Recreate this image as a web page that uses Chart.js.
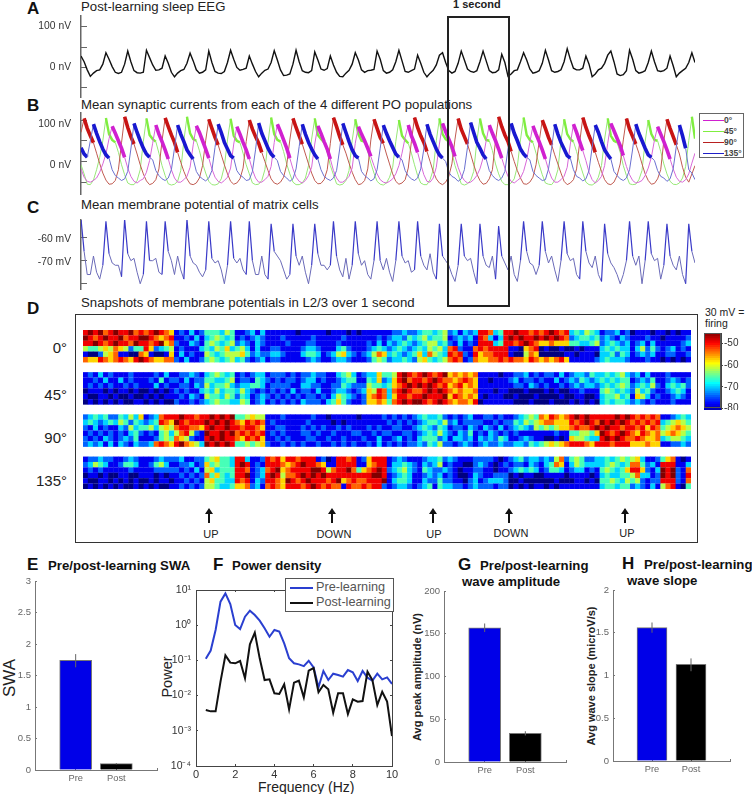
<!DOCTYPE html>
<html>
<head>
<meta charset="utf-8">
<title>Post-learning sleep figure</title>
<script src="https://cdn.jsdelivr.net/npm/chart.js@4"></script>
<style>
    html, body { margin: 0; padding: 0; background: #fff; }
    #page { position: relative; width: 752px; height: 794px; overflow: hidden; font-family: "Liberation Sans", sans-serif; color: #222; }
    #page canvas { position: absolute; }
    .txt { position: absolute; white-space: nowrap; line-height: 1; }
    .letter { font-weight: bold; font-size: 17px; color: #111; }
    .title { font-size: 13.2px; color: #222; }
    .head { font-weight: bold; font-size: 13.2px; color: #111; }
    .row { font-size: 15px; width: 60px; text-align: right; left: 7px; color: #222; }
    .state { font-size: 11px; transform: translateX(-50%); color: #222; }
    .box { position: absolute; box-sizing: border-box; }
    .vert { transform: translate(-50%, -50%) rotate(-90deg); }
</style>
</head>
<body>
<div id="page">
    <span class="txt letter" style="left:27px;top:0px">A</span>
    <span class="txt title" style="left:81px;top:0px">Post-learning sleep EEG</span>
    <span class="txt letter" style="left:27px;top:97px">B</span>
    <span class="txt title" style="left:81px;top:98px">Mean synaptic currents from each of the 4 different PO populations</span>
    <span class="txt letter" style="left:27px;top:199px">C</span>
    <span class="txt title" style="left:81px;top:198px">Mean membrane potential of matrix cells</span>
    <span class="txt letter" style="left:27px;top:300px">D</span>
    <span class="txt title" style="left:81px;top:296px">Snapshots of membrane potentials in L2/3 over 1 second</span>
    <span class="txt" style="left:453px;top:-1px;font-weight:bold;font-size:11px">1 second</span>

    <span class="txt row" style="top:340px">0°</span>
    <span class="txt row" style="top:387px">45°</span>
    <span class="txt row" style="top:430px">90°</span>
    <span class="txt row" style="top:473px">135°</span>

    <span class="txt state" style="left:211px;top:529px">UP</span>
    <span class="txt state" style="left:334px;top:529px">DOWN</span>
    <span class="txt state" style="left:434px;top:529px">UP</span>
    <span class="txt state" style="left:511px;top:528px">DOWN</span>
    <span class="txt state" style="left:627px;top:528px">UP</span>

    <span class="txt" style="left:705px;top:307px;font-size:10.5px">30 mV =</span>
    <span class="txt" style="left:705px;top:318px;font-size:10.5px">firing</span>

    <span class="txt letter" style="left:27px;top:556px">E</span>
    <span class="txt head" style="left:48px;top:559px">Pre/post-learning SWA</span>
    <span class="txt letter" style="left:213px;top:556px">F</span>
    <span class="txt head" style="left:232px;top:559px">Power density</span>
    <span class="txt letter" style="left:458px;top:556px">G</span>
    <span class="txt head" style="left:480px;top:559px">Pre/post-learning</span>
    <span class="txt head" style="left:462px;top:575px">wave amplitude</span>
    <span class="txt letter" style="left:622px;top:555px">H</span>
    <span class="txt head" style="left:644px;top:558px">Pre/post-learning</span>
    <span class="txt head" style="left:627px;top:574px">wave slope</span>

    <span class="txt vert" style="left:9px;top:678px;font-size:17px">SWA</span>
    <span class="txt vert" style="left:167px;top:677px;font-size:14.5px">Power</span>
    <span class="txt" style="left:258px;top:780px;font-size:14px">Frequency (Hz)</span>
    <span class="txt vert" style="left:417px;top:677px;font-size:11px;font-weight:bold">Avg peak amplitude (nV)</span>
    <span class="txt vert" style="left:591px;top:676px;font-size:11px;font-weight:bold">Avg wave slope (microV/s)</span>
</div>

<script>
// panel A, nV, one sample every 0.05 s
const eegValues = [
    28,14,-6,-22,-14,-8,-6,8,36,20,
    2,-12,-15,-12,8,40,14,-8,-13,-14,
    -12,42,24,6,-7,-6,-2,28,10,-12,
    -23,-14,-8,-5,10,35,16,-6,-14,-12,
    -6,40,12,-10,-14,-15,-10,12,42,20,
    0,-7,-5,-2,28,8,-10,-23,-14,-7,
    -4,12,41,18,-6,-20,-19,-16,8,42,
    14,-8,-12,-13,-8,38,18,-4,-7,-3,
    28,6,-12,-22,-23,-14,-7,8,36,18,
    -6,-12,-8,-7,-5,40,20,-8,-14,-12,
    -6,14,42,16,-10,-12,-8,-4,30,10,
    -12,-23,-14,-7,6,30,36,12,-8,-14,
    -10,10,40,18,-4,-10,-12,-8,14,40,
    16,-8,-13,-12,-6,32,12,-22,-16,-8,
    -6,14,36,18,-4,-14,-12,-8,10,42,
    18,-8,-12,-10,-6,14,46,20,-2,-6,
    -6,-2,28,8,-23,-16,-6,-2,10,30,
    40,14,-16,-20,-18,-8,42,20,-8,-14,
    -12,-8,12,40,14,-8,-10,-8,-2,28,
    4,-23,-14,-8,-2,12,36,12
];

// panel B, nV, same sampling
const current0 = [
    -18,-38,-48,-50,-46,-40,-26,-6,18,55,85,
    68,50,32,10,-16,-36,-48,-52,-46,-42,-26,2,44,88,
    66,48,28,6,-20,-40,-50,-50,-44,-36,-14,40,86,
    70,50,30,8,-18,-38,-48,-52,-46,-38,-16,42,84,
    66,46,28,6,-20,-40,-50,-50,-44,-36,-12,46,90,
    72,52,32,8,-18,-38,-48,-52,-46,-34,-14,42,86,
    68,48,30,6,-22,-40,-50,-50,-44,-36,-16,44,84,
    66,50,32,12,-10,-30,-44,-50,-52,-48,-42,-30,-10,20,58,88,
    62,44,22,-6,-32,-48,-50,-40,-14,42,92,
    72,54,36,12,-14,-34,-46,-52,-50,-44,-34,-18,8,50,88,
    68,50,30,8,-16,-36,-48,-52,-46,-40,-24,4,46,86,
    66,48,28,6,-20,-40,-50,-50,-44,-36,-14,42,90,
    70,48,26,2,-26,-44,-52,-46,-36,-10,44,92,
    74,56,38,14,-12,-32,-46,-52,-50,-46,-34,-16,10,52,84,
    66,48,28,6,-18,-38,-48,-50,-44,-30,-4,20
];
const current45 = [
    -8,-30,-55,-56,-45,-20,10,50,105,
    66,52,46,22,-8,-32,-52,-56,-56,-46,-20,48,104,
    64,54,48,20,-10,-34,-54,-57,-55,-48,-22,50,108,
    68,54,50,26,-4,-28,-48,-56,-57,-54,-42,-12,52,103,
    62,50,46,20,-8,-30,-52,-56,-55,-46,-20,46,106,
    66,52,48,24,-6,-30,-50,-56,-56,-52,-40,-10,54,104,
    64,54,46,22,-10,-32,-54,-57,-55,-46,-22,50,102,
    66,50,48,24,-4,-28,-48,-55,-57,-52,-38,-14,48,100,
    62,52,44,20,-8,-34,-52,-56,-56,-44,-20,50,104,
    66,54,48,22,-10,-32,-54,-57,-54,-46,-24,48,104,
    68,52,50,26,-6,-30,-48,-56,-56,-52,-42,-12,52,106,
    64,52,46,20,-8,-32,-52,-55,-56,-46,-20,50,102,
    66,54,48,24,-4,-28,-50,-56,-57,-52,-38,-10,54,104,
    62,50,46,22,-10,-34,-54,-56,-55,-44,-22,48,100,
    66,52,50,24,-6,-30,-48,-55,-56,-52,-40,-12,50,108,
    55
];
const current90 = [
    70,104,
    80,62,45,20,-5,-28,-45,-55,-54,-46,-20,45,108,
    82,60,42,18,-8,-30,-47,-56,-53,-44,-18,50,105,
    84,64,46,22,-2,-24,-42,-54,-56,-52,-40,-10,50,102,
    80,58,40,16,-8,-30,-48,-55,-52,-42,-16,48,100,
    78,60,44,22,0,-22,-42,-52,-55,-50,-38,-8,52,104,
    82,62,42,18,-6,-28,-46,-54,-53,-44,-20,44,106,
    84,60,40,20,-4,-26,-44,-56,-54,-46,-18,52,102,
    80,58,44,18,-6,-30,-48,-55,-52,-44,-16,48,106,
    82,62,46,24,0,-24,-42,-52,-56,-50,-36,-6,54,104,
    78,60,42,18,-8,-30,-46,-55,-53,-42,-20,50,108,
    84,64,48,24,0,-22,-40,-54,-55,-50,-38,-8,48,100,
    80,58,40,16,-6,-28,-48,-56,-52,-44,-18,46,106,
    82,62,44,22,-2,-24,-44,-54,-56,-50,-34,-6,52,104,
    78,60,42,20,-6,-30,-46,-55,-53,-42,-20,50,102,
    80,60,40,18,-14,-38,-50,-30,-10
];
const current135 = [
    33,18,10,50,90,
    68,48,30,16,8,-20,-34,-40,-46,-42,-24,30,92,
    70,50,32,18,10,4,-22,-34,-42,-46,-40,-20,32,88,
    66,48,28,16,6,-24,-36,-42,-47,-40,-22,34,90,
    70,46,30,14,8,-22,-33,-38,-46,-44,-24,28,93,
    68,50,32,18,10,2,-24,-34,-40,-48,-42,-18,36,90,
    66,46,30,16,6,-20,-36,-42,-46,-40,-22,30,92,
    70,48,28,14,8,-24,-34,-40,-47,-42,-20,32,88,
    68,50,34,18,10,4,-22,-35,-42,-46,-40,-18,30,90,
    66,48,30,16,8,0,-26,-36,-40,-48,-42,-20,34,94,
    70,46,32,16,6,-22,-34,-42,-46,-40,-24,30,92,
    68,50,30,18,10,4,-24,-34,-40,-46,-44,-18,32,90,
    66,46,30,14,8,-20,-36,-40,-47,-42,-22,34,88,
    70,48,28,16,6,-24,-34,-42,-46,-40,-20,30,90,
    68,50,32,16,10,2,-22,-36,-40,-48,-42,-18,36,88,
    62,32,-20,-28,-44
];

// panel C, mV
const matrixValues = [
    -52,-66,-76,-76,-68,-75,-78,-72,-53,-67,
    -71,-72,-72,-77,-52,-67,-70,-69,-75,-80,
    -76,-53,-70,-70,-69,-75,-76,-53,-66,-70,
    -76,-68,-74,-78,-52,-68,-71,-72,-75,-77,
    -74,-53,-69,-71,-70,-74,-80,-72,-53,-69,
    -71,-69,-74,-76,-53,-70,-76,-76,-68,-76,
    -78,-54,-66,-68,-70,-74,-78,-76,-54,-68,
    -72,-68,-75,-80,-72,-54,-67,-72,-72,-74,
    -72,-53,-68,-74,-77,-69,-78,-72,-53,-67,
    -72,-70,-76,-78,-70,-53,-70,-74,-69,-75,
    -79,-70,-53,-68,-71,-70,-75,-74,-53,-68,
    -72,-74,-67,-75,-78,-54,-68,-70,-72,-76,
    -79,-72,-54,-68,-70,-69,-75,-80,-54,-68,
    -72,-73,-68,-78,-55,-68,-71,-74,-68,-76,
    -79,-70,-53,-66,-71,-72,-76,-72,-53,-66,
    -71,-68,-74,-79,-70,-53,-67,-70,-69,-76,
    -78,-53,-66,-71,-73,-68,-76,-79,-54,-67,
    -71,-73,-76,-80,-76,-70,-53,-68,-72,-68,
    -80,-70,-53,-67,-70,-69,-78,-72,-54,-68,
    -72,-74,-68,-76,-80,-54,-66,-71
];

const sampleStep = 0.05;
const traceSeconds = 9.85;

const eegTicks = [100, 50, 0, -50];
const eegTickLabels = ['100 nV', '', '0 nV', ''];
const matrixTicks = [-60, -70, -80];
const matrixTickLabels = ['-60 mV', '-70 mV', ''];
const currentKeys = ['0°', '45°', '90°', '135°'];

// panel D, one string per row of each band, 20 snapshots of 6 cells, colour level 0-9
const band0 = [
    '898978 988978 789876 121312 444354 112313 111111 011111 011101 011111 122322 344345 231323 887348 898878 789878 343543 122312 011101 101011',
    '987898 897889 987678 112131 345434 121232 111211 111211 111211 111121 233243 453445 123231 873138 989889 898987 234434 232132 111211 011112',
    '889878 988798 878967 211321 454345 232132 111121 112211 112111 112131 323432 345534 213121 888348 878987 667666 443345 234323 123131 111123',
    '544565 765244 862345 121113 435463 453131 122111 123321 113421 112343 234323 435453 782117 878888 110678 010010 010111 343433 135242 123121',
    '100256 711007 610016 131211 543455 564232 233211 134431 235632 123576 343234 637543 878218 677888 100576 000001 101110 334243 123231 122112',
    '766876 787689 876677 213112 454345 342123 122111 112321 123321 112454 233432 564345 787127 667787 877687 676786 111112 343332 111211 010101'
];
const band45 = [
    '121312 111211 112131 122321 345434 121233 122212 122322 113453 123364 458987 898789 676767 111101 122312 122131 233243 343453 231311 121111',
    '112131 131211 121412 213122 443345 122143 212122 123312 112344 114362 368978 878987 767876 110111 231221 211312 324323 434344 123241 123212',
    '121212 112121 113121 122132 534453 233443 122221 133221 122432 225443 467898 989878 678676 111111 122132 121121 232332 343454 234352 134342',
    '011101 011010 010101 212113 435344 353212 121213 122131 123321 236587 378987 789898 767667 111011 000100 010100 112111 454343 253421 123431',
    '100110 100100 101011 121321 544354 243123 212121 212212 135432 126787 368878 898889 687676 101110 010001 000010 011001 344534 165312 112321',
    '010101 010011 010100 211212 345443 354123 121212 132221 346421 126676 478989 987898 767768 011111 100010 001000 101010 343443 232121 112111'
];
const band90 = [
    '234342 243536 123788 898878 898989 445655 111211 111211 011111 011112 121212 343342 121231 122121 123454 768767 898988 888989 878787 112343',
    '343234 354243 234876 987888 989898 768787 121111 112111 101011 111111 212121 234435 231222 211212 243545 677666 878987 989898 787878 345654',
    '213121 132534 453565 788776 898898 878876 112211 121212 112121 112121 122112 343243 122132 132131 234325 454566 787789 898878 878687 456765',
    '121212 121342 121453 578521 988989 787878 121211 122121 121112 211212 211221 234353 213241 213212 121111 111211 445546 987898 768767 567654',
    '212132 123241 112454 765211 898988 768786 112121 112211 211211 121131 123121 344423 133231 323243 112321 100101 655433 898987 787667 345543',
    '232313 132132 237876 897653 989898 445456 211212 121121 121212 112131 212122 324352 212321 232232 233243 456567 888768 887888 666766 112232'
];
const band135 = [
    '122322 112321 112322 231122 456443 883112 878688 788812 018878 126888 123211 123342 321112 222101 234233 232572 454223 343454 563112 467101',
    '235431 124431 124531 122312 645443 898121 888767 898876 118888 116788 133432 132351 211002 321012 122132 134761 354333 345434 774231 888113',
    '121211 111211 112222 212131 563444 887123 789678 888998 578897 467898 234532 143223 210112 211011 234343 124431 233121 454346 886213 989217',
    '011010 011001 110101 121212 746434 889123 898577 898989 888888 888998 123431 123231 210013 211222 010110 011110 111101 343344 573312 989218',
    '100110 101010 010110 112121 564433 878132 887698 789888 789678 778889 134431 132242 211023 123332 001000 000100 011010 445435 452122 888217',
    '010101 010010 101001 121212 554334 667231 787688 878987 877187 787882 123321 234143 322123 222122 010101 101011 111111 344344 232131 578104'
];

const colorbarLevels = [-80,-79,-78,-77,-76,-75,-74,-73,-72,-71,-70,-69,-68,-67,-66,-65,-64,-63,-62,-61,-60,-59,-58,-57,-56,-55,-54,-53,-52,-51,-50,-49,-48,-47,-46];
const colorbarTicks = [-50, -60, -70, -80];

// panels E, G, H
const barPositions = [1, 2];
const barTickLabels = ['', 'Pre', 'Post', ''];
const swaValues = [1.74, 0.1];
const swaLow = [1.63, 0.09];
const swaHigh = [1.84, 0.11];
const swaTicks = [0, 0.5, 1, 1.5, 2, 2.5, 3];
const amplitudeValues = [157, 33.5];
const amplitudeLow = [152, 31];
const amplitudeHigh = [162, 36];
const amplitudeTicks = [0, 50, 100, 150, 200];
const slopeValues = [1.56, 1.13];
const slopeLow = [1.5, 1.05];
const slopeHigh = [1.62, 1.2];
const slopeTicks = [0, 0.5, 1, 1.5, 2];

// panel F
const frequencies = [0.5,0.75,1,1.25,1.5,1.75,2,2.25,2.5,2.75,3,3.25,3.5,3.75,4,4.25,4.5,4.75,5,5.25,5.5,5.75,6,6.25,6.5,6.75,7,7.25,7.5,7.75,8,8.25,8.5,8.75,9,9.25,9.5,9.75,10];
const powerPre = [0.112,0.19,0.73,4.67,8,4,1.01,0.78,1.75,2.59,1.95,1.35,0.815,0.47,0.73,0.655,0.305,0.115,0.083,0.077,0.069,0.098,0.0635,0.0172,0.05,0.0277,0.042,0.0385,0.0345,0.053,0.0458,0.026,0.05,0.0324,0.0266,0.042,0.029,0.033,0.0214];
const powerPost = [0.0039,0.00357,0.00357,0.0249,0.139,0.0863,0.0826,0.0962,0.031,0.286,0.614,0.1145,0.0277,0.029,0.0116,0.0111,0.0209,0.00407,0.0233,0.0265,0.00893,0.051,0.0608,0.0124,0.02,0.0151,0.00327,0.0116,0.0116,0.003,0.00783,0.00673,0.00703,0.0479,0.0277,0.0054,0.0129,0.00673,0.00071];
const powerTicks = [10, 1, 0.1, 0.01, 0.001, 0.0001];
const powerTickLabels = ['10¹', '10⁰', '10⁻¹', '10⁻²', '10⁻³', '10⁻⁴'];
const frequencyTicks = [0, 2, 4, 6, 8, 10];
const powerKeys = ['Pre-learning', 'Post-learning'];

const page = document.getElementById('page');
const topGap = 8;

function makeChart(box, marginLeft, marginBottom, marginRight, config) {
    const canvas = document.createElement('canvas');
    canvas.style.left = (box[0] - marginLeft) + 'px';
    canvas.style.top = (box[1] - topGap) + 'px';
    canvas.style.width = (marginLeft + box[2] + marginRight) + 'px';
    canvas.style.height = (topGap + box[3] + marginBottom) + 'px';
    canvas.width = marginLeft + box[2] + marginRight;
    canvas.height = topGap + box[3] + marginBottom;
    page.appendChild(canvas);
    config.options = Object.assign({
        responsive: false,
        animation: false,
        events: [],
        layout: { padding: { top: topGap, right: config.rightAxis ? 0 : marginRight, left: 0, bottom: 0 } },
        plugins: { legend: { display: false }, tooltip: { enabled: false } }
    }, config.options);
    return new Chart(canvas, config);
}

function fixedTicks(values) {
    return scale => { scale.ticks = values.map(v => ({ value: v })); };
}

// keep the plot area exactly where the box says, labels may hang outside it
function fitY(width) {
    return s => { s.width = width; s.paddingTop = 0; s.paddingBottom = 0; };
}
function fitX(height) {
    return s => { s.height = height; s.paddingLeft = 0; s.paddingRight = 0; };
}

function traceY(ticks, labels, min, max, width, labelOffset) {
    return {
        min: min, max: max, position: 'left',
        afterFit: fitY(width),
        afterBuildTicks: fixedTicks(ticks),
        border: { color: '#666', width: 1.5 },
        grid: { drawOnChartArea: false, tickLength: -6, color: '#666' },
        ticks: {
            padding: 16, labelOffset: labelOffset, autoSkip: false, maxRotation: 0,
            color: '#333', font: { family: 'Liberation Sans', size: 10.3 },
            callback: v => labels[ticks.indexOf(v)]
        }
    };
}

const traceX = { type: 'linear', min: 0, max: traceSeconds, display: false };

function traceSet(values, color, paleColor, limit, thick, thin) {
    return {
        data: values, borderColor: paleColor, borderWidth: thin, pointRadius: 0, tension: 0,
        segment: {
            borderWidth: c => (c.p0.parsed.y > c.p1.parsed.y && c.p1.parsed.y > limit) ? thick : thin,
            borderColor: c => (c.p0.parsed.y > c.p1.parsed.y && c.p1.parsed.y > limit) ? color : paleColor
        }
    };
}

function sampleTimes(values) {
    return values.map((v, i) => i * sampleStep);
}

// A
makeChart([81, 16, 614, 80], 81, 2, 8, {
    type: 'line',
    data: {
        labels: sampleTimes(eegValues),
        datasets: [{ data: eegValues, borderColor: '#111', borderWidth: 1.4, pointRadius: 0, tension: 0 }]
    },
    options: { scales: { x: traceX, y: traceY(eegTicks, eegTickLabels, -75, 126, 81, 0) } }
});

// B
makeChart([81, 113, 614, 80], 81, 2, 8, {
    type: 'line',
    data: {
        labels: sampleTimes(current0),
        datasets: [
            traceSet(current135, '#1818d0', '#6a70d0', 5, 3.6, 1),
            traceSet(current0, '#d020d0', '#d868d8', 5, 3.6, 1),
            traceSet(current90, '#c81414', '#c05a50', 20, 3.6, 1),
            traceSet(current45, '#80ee40', '#98e878', 40, 2.4, 1)
        ]
    },
    options: { scales: { x: traceX, y: traceY(eegTicks, eegTickLabels, -81, 117, 81, 4) } }
});

// C
makeChart([81, 220, 614, 68], 81, 2, 8, {
    type: 'line',
    data: {
        labels: sampleTimes(matrixValues),
        datasets: [{
            data: matrixValues, borderColor: '#6a6ab8', borderWidth: 1, pointRadius: 0, tension: 0,
            segment: {
                borderColor: c => Math.max(c.p0.parsed.y, c.p1.parsed.y) > -62 ? '#3a3ac8' : '#6a6ab8',
                borderWidth: c => Math.max(c.p0.parsed.y, c.p1.parsed.y) > -62 ? 1.2 : 1
            }
        }]
    },
    options: { scales: { x: traceX, y: traceY(matrixTicks, matrixTickLabels, -82.7, -52.4, 81, 2) } }
});

// jet colour map of the colour bar
function jet(mv) {
    const t = Math.min(1, Math.max(0, (mv + 82) / 37));
    const part = c => Math.round(255 * Math.min(1, Math.max(0, 1.5 - Math.abs(4 * t - c))));
    return 'rgb(' + part(3) + ',' + part(2) + ',' + part(1) + ')';
}

// D
const cellPoints = [];
const cellColors = [];
[band0, band45, band90, band135].forEach((band, b) => {
    band.forEach((rowText, k) => {
        rowText.replace(/ /g, '').split('').forEach((level, col) => {
            cellPoints.push({ x: col + 0.5, y: b * 7.82 + k + 0.5 });
            cellColors.push(jet(-82 + Number(level) * 37 / 9));
        });
    });
});
const heat = makeChart([79, 330, 616, 163], 0, 0, 0, {
    type: 'scatter',
    data: { datasets: [{
        data: cellPoints, pointStyle: 'rect', pointRadius: 3.9, pointBorderWidth: 0,
        pointBackgroundColor: cellColors
    }] },
    options: { scales: {
        x: { type: 'linear', min: 0, max: 120, display: false },
        y: { type: 'linear', min: 0, max: 29.46, reverse: true, display: false }
    } }
});
heat.canvas.style.filter = 'blur(0.7px)';

// colour bar
makeChart([704, 333, 17, 75], 0, 2, 30, {
    type: 'bar',
    rightAxis: true,
    data: { labels: colorbarLevels, datasets: [{
        data: colorbarLevels.map(v => ({ x: 1, y: v })),
        backgroundColor: colorbarLevels.map(jet), barThickness: 2.6, borderWidth: 0
    }] },
    options: {
        indexAxis: 'y',
        scales: {
            x: { type: 'linear', min: 0, max: 1, display: false },
            y: {
                type: 'linear', position: 'right', min: -80.6, max: -45.3, offset: false,
                afterFit: fitY(30),
                afterBuildTicks: fixedTicks(colorbarTicks),
                border: { color: '#444' },
                grid: { drawOnChartArea: false, offset: false, tickLength: 2, color: '#444' },
                ticks: { padding: 1, color: '#333', font: { family: 'Liberation Sans', size: 10 } }
            }
        }
    }
});

// E, G, H
function barChart(box, marginLeft, values, low, high, ticks, barWidth) {
    const whisker = i => ({
        type: 'line', data: [{ x: barPositions[i], y: low[i] }, { x: barPositions[i], y: high[i] }],
        borderColor: '#666', borderWidth: 1, pointRadius: 0, order: 0
    });
    makeChart(box, marginLeft, 22, 8, {
        type: 'bar',
        data: { datasets: [
            whisker(0), whisker(1),
            {
                data: values.map((v, i) => ({ x: barPositions[i], y: v })),
                backgroundColor: ['#0000e8', '#000000'], borderColor: '#777', borderWidth: 1,
                barThickness: barWidth, order: 1
            }
        ] },
        options: { scales: {
            x: {
                type: 'linear', min: 0, max: 3, offset: false,
                afterFit: fitX(22),
                afterBuildTicks: fixedTicks([0, 1, 2, 3]),
                border: { color: '#777', width: 1 },
                grid: { drawOnChartArea: false, offset: false, tickLength: -2, color: '#777' },
                ticks: { padding: 5, maxRotation: 0, color: '#666', font: { family: 'Liberation Sans', size: 9.3 }, callback: v => barTickLabels[v] }
            },
            y: {
                min: ticks[0], max: ticks[ticks.length - 1],
                afterFit: fitY(marginLeft),
                afterBuildTicks: fixedTicks(ticks),
                border: { color: '#777', width: 1 },
                grid: { drawOnChartArea: false, tickLength: -2, color: '#777' },
                ticks: { padding: 6, color: '#666', font: { family: 'Liberation Sans', size: 9.5 }, callback: v => String(v) }
            }
        } }
    });
}
barChart([35, 581, 122, 189], 35, swaValues, swaLow, swaHigh, swaTicks, 32);
barChart([444, 591, 122, 171], 40, amplitudeValues, amplitudeLow, amplitudeHigh, amplitudeTicks, 32);
barChart([613, 590, 117, 171], 20, slopeValues, slopeLow, slopeHigh, slopeTicks, 30);

// F
const frameColor = '#444';
makeChart([196, 590, 196, 176], 30, 18, 10, {
    type: 'line',
    data: {
        labels: frequencies,
        datasets: [
            { data: powerPost, borderColor: '#111', borderWidth: 2, pointRadius: 0, tension: 0 },
            { data: powerPre, borderColor: '#2a3fd0', borderWidth: 2, pointRadius: 0, tension: 0 }
        ]
    },
    options: { scales: {
        x: {
            type: 'linear', min: 0, max: 10,
            afterFit: fitX(18),
            afterBuildTicks: fixedTicks(frequencyTicks),
            border: { color: frameColor },
            grid: { drawOnChartArea: false, tickLength: -2, color: frameColor },
            ticks: { padding: 4, maxRotation: 0, color: '#333', font: { family: 'Liberation Sans', size: 11 }, callback: v => String(v) }
        },
        xTop: {
            type: 'linear', position: 'top', min: 0, max: 10,
            afterFit: fitX(0),
            afterBuildTicks: fixedTicks(frequencyTicks),
            border: { color: frameColor },
            grid: { drawOnChartArea: false, tickLength: -2, color: frameColor },
            ticks: { display: false }
        },
        y: {
            type: 'logarithmic', min: 0.0001, max: 10,
            afterFit: fitY(30),
            afterBuildTicks: fixedTicks(powerTicks),
            border: { color: frameColor },
            grid: { drawOnChartArea: false, tickLength: -2, color: frameColor },
            ticks: { padding: 7, color: '#333', font: { family: 'Liberation Sans', size: 10.5 }, callback: v => powerTickLabels[powerTicks.indexOf(v)] }
        },
        yRight: {
            type: 'logarithmic', position: 'right', min: 0.0001, max: 10,
            afterFit: fitY(0),
            afterBuildTicks: fixedTicks(powerTicks),
            border: { color: frameColor },
            grid: { drawOnChartArea: false, tickLength: -2, color: frameColor },
            ticks: { display: false }
        }
    } }
});

// frames, arrows and keys sit above the charts
function addBox(parent, left, top, width, height, style) {
    const div = document.createElement('div');
    div.className = 'box';
    div.style.cssText = 'left:' + left + 'px;top:' + top + 'px;width:' + width + 'px;height:' + height + 'px;' + style;
    parent.appendChild(div);
    return div;
}
function addText(parent, text, left, top, style) {
    const span = document.createElement('span');
    span.className = 'txt';
    span.textContent = text;
    span.style.cssText = 'left:' + left + 'px;top:' + top + 'px;' + style;
    parent.appendChild(span);
}

addBox(page, 447, 16, 63, 291, 'border:2px solid #222');
addBox(page, 75, 314, 623, 229, 'border:1.5px solid #333');
addBox(page, 704, 333, 17, 75, 'border:1px solid #555');

[[209, 508], [332, 508], [433, 508], [509, 508], [625, 508]].forEach(p => {
    const div = addBox(page, p[0] - 4, p[1], 8, 15, '');
    div.innerHTML = '<svg width="8" height="15"><path d="M4 0 L8 6 L5 6 L5 15 L3 15 L3 6 L0 6 Z" fill="#111"/></svg>';
});

const keyBox = addBox(page, 699, 113, 45, 45, 'border:1.5px solid #666;background:#fff');
['#d020d0', '#80ee40', '#b82020', '#2020c8'].forEach((color, i) => {
    addBox(keyBox, 3, 6 + i * 10.9, 21, 1, 'background:' + color);
    addText(keyBox, currentKeys[i], 24, 2 + i * 10.9, 'font-size:8.5px;font-weight:bold;color:#444');
});

const powerKey = addBox(page, 285, 578, 109, 34, 'border:1.5px solid #555;background:#fff');
['#2a3fd0', '#111'].forEach((color, i) => {
    addBox(powerKey, 4, 8 + i * 15, 23, 1.5, 'background:' + color);
    addText(powerKey, powerKeys[i], 30, 2 + i * 15, 'font-size:12.7px;color:#555');
});
</script>
</body>
</html>
